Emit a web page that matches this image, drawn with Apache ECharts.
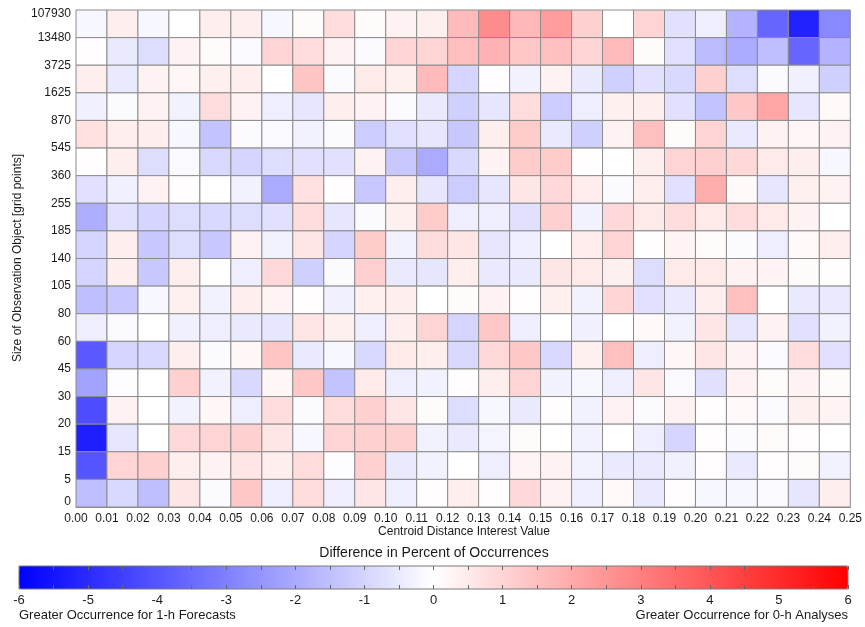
<!DOCTYPE html>
<html><head><meta charset="utf-8">
<script src="https://cdn.jsdelivr.net/npm/echarts@6/dist/echarts.min.js"></script>
<style>html,body{margin:0;padding:0;background:#fff}#c{width:865px;height:627px}</style>
</head><body><div id="c"></div>
<script>
// x edges (Centroid Distance Interest Value) — 25 columns between 26 edges
const xTickLabels = ['0.00','0.01','0.02','0.03','0.04','0.05','0.06','0.07','0.08','0.09','0.10','0.11','0.12','0.13','0.14','0.15','0.16','0.17','0.18','0.19','0.20','0.21','0.22','0.23','0.24','0.25'];
// y edges (Size of Observation Object) — 18 rows between 19 edges, bottom to top
const yTickLabels = ['0','5','15','20','30','45','60','80','105','140','185','255','360','545','870','1625','3725','13480','107930'];
const colorbarTicks = [-6,-5,-4,-3,-2,-1,0,1,2,3,4,5,6];

// Difference in percent of occurrences; rows listed top (13480–107930) to bottom (0–5)
const cellValues = [
  [-0.2, 0.4,-0.2, 0.0, 0.4, 0.4,-0.2, 0.1, 0.8, 0.1, 0.3, 0.35, 1.6, 2.7, 1.7, 2.3, 1.1, 0.0, 1.0,-0.7,-0.4,-1.8,-3.6,-5.2,-2.8],
  [0.05,-0.5,-0.8, 0.3, 0.1,-0.15, 1.0, 0.8, 0.3,-0.1, 1.0, 1.0, 1.5, 1.8, 1.3, 1.5, 1.0, 1.6, 0.1,-0.7,-1.6,-2.0,-1.5,-3.6,-1.8],
  [0.4,-0.5, 0.3, 0.2, 0.35, 0.4, 0.0, 1.4,-0.1, 0.5, 0.35, 1.6,-1.0, 0.05,-0.3, 0.3,-0.5,-1.1,-0.7,-0.9, 1.1,-0.8,-0.1,-0.35,-1.1],
  [-0.35,-0.1, 0.3,-0.3, 0.8, 0.3,-0.4,-0.6, 0.4, 0.3,-0.1,-0.5,-1.1,-0.6, 0.8,-1.2,-0.4, 0.35, 0.4,-0.7,-1.4, 1.3, 2.1,-0.6, 0.15],
  [0.7, 0.4, 0.4,-0.2,-1.4,-0.1,-0.15,-0.3,-0.1,-1.2,-0.7,-0.6,-1.3, 0.4, 1.2,-0.5,-1.1, 0.3, 1.5, 0.1, 1.0,-0.5, 0.3, 0.2, 0.3],
  [0.05, 0.4,-0.8,-0.15,-0.9,-1.0,-0.8,-0.7,-0.7, 0.3,-1.3,-2.0,-0.9, 0.3, 1.2, 1.2, 0.05, 0.0, 0.4, 1.0, 1.1, 0.9, 0.5, 0.4,-0.2],
  [-0.7,-0.35, 0.3, 0.05, 0.0,-0.3,-2.0, 0.7, 0.05,-1.3, 0.4,-0.6,-1.2,-0.6, 0.6, 0.9, 0.45,-0.1, 0.4,-0.7, 1.9, 0.15,-0.6, 0.35, 0.3],
  [-1.9,-0.7,-1.0,-0.8,-0.9,-0.8,-0.7, 0.8,-0.6,-0.1, 0.35, 1.2,-0.4,-0.4,-0.7, 1.1,-0.3, 0.9, 0.5, 0.8, 0.5, 0.8, 0.5, 0.3, 0.0],
  [-1.0, 0.4,-1.3,-0.8,-1.3, 0.3,-0.3, 0.6,-1.0, 1.2,-0.3, 0.8, 0.6,-0.6,-0.4, 0.0, 0.45, 1.0, 0.05, 0.25, 0.1,-0.1,-0.4, 0.15, 0.4],
  [-1.0, 0.4,-1.3, 0.4, 0.0,-0.4, 0.9,-1.1,-0.1, 1.1,-0.5,-0.6, 0.4,-0.5,-0.5, 0.6, 0.5, 0.35,-0.8, 0.5, 0.5, 0.3, 0.25, 0.1, 0.05],
  [-1.5,-1.3,-0.2, 0.35,-0.3, 0.4, 0.25, 0.05,-0.35, 0.35, 0.4, 0.0, 0.1, 0.3, 0.05, 0.35,-0.3, 1.0,-0.7,-0.5, 0.4, 1.5, 0.0,-0.5,-0.5],
  [-0.4,-0.1, 0.0,-0.35,-0.4,-0.5,-0.6, 0.6, 0.35,-0.4, 0.4, 1.0,-1.0, 1.3,-0.4, 0.0,-0.35, 0.0, 0.15,-0.3, 0.6,-0.6, 0.3,-0.7,-0.3],
  [-3.9,-1.0,-0.9, 0.4,-0.1, 0.2, 1.4,-0.5,-0.2,-0.9, 0.5, 0.4,-0.9, 0.9, 1.3,-0.9, 0.35, 1.5,-0.4, 0.2, 0.6, 0.3,-0.15, 0.8,-0.7],
  [-2.2,-0.05, 0.0, 1.1,-0.3,-0.9, 0.2, 1.3,-1.4, 0.5,-0.4,-0.3, 0.05, 0.4, 1.0,-0.3,-0.2,-0.4, 0.6,-0.15,-0.7, 0.3, 0.1, 0.3, 0.1],
  [-4.2, 0.3, 0.0,-0.3, 0.2,-0.4, 0.8,-0.1, 0.8, 1.1, 0.6, 0.1,-0.8,-0.2,-0.5, 0.05,-0.3, 0.3,-0.1, 0.3, 0.05, 0.15,-0.1, 0.35, 0.25],
  [-5.3,-0.6, 0.0, 0.9, 1.0, 1.1, 0.6,-0.2, 1.0, 1.1, 1.1,-0.3,-0.5,-0.25, 0.1, 0.0,-0.3, 0.0,-0.4,-1.0, 0.05,-0.1, 0.1, 0.05, 0.0],
  [-4.0, 1.0, 1.1, 0.4, 0.3, 0.6, 0.4, 0.8,-0.05, 1.1,-0.5,-0.3, 0.0,-0.4, 0.25, 0.3,-0.3,-0.5,-0.5,-0.35, 0.05,-0.5, 0.05, 0.1,-0.3],
  [-1.5,-0.9,-1.5, 0.6,-0.1, 1.3,-0.4, 0.8,-0.4, 0.6,-0.4, 0.05, 0.4, 0.05, 0.9, 0.3,-0.4, 0.15,-0.5, 0.05,-0.2,-0.2,-0.15,-0.6, 0.4]
];

const xEdges = xTickLabels.map(Number);
const nRows = cellValues.length;
const cells = [];
cellValues.forEach((row, i) => {
  const r = nRows - 1 - i;
  row.forEach((v, c) => cells.push([xEdges[c], xEdges[c + 1], r, r + 1, v]));
});

const FONT = '"Liberation Sans", Arial, Helvetica, sans-serif';
const TXT = '#1a1a1a';
const chart = echarts.init(document.getElementById('c'), null, {renderer: 'canvas'});

chart.setOption({
  animation: false,
  backgroundColor: '#fff',
  textStyle: {fontFamily: FONT},
  grid: [
    {left: 76, top: 10, width: 776, height: 497, containLabel: false},
    {left: 19, top: 566, width: 829, height: 23, show: true, borderColor: '#7a7a7a', borderWidth: 1, backgroundColor: 'rgba(0,0,0,0)', z: 10}
  ],
  xAxis: [
    {
      gridIndex: 0, type: 'value', min: 0, max: 0.25, interval: 0.01,
      axisLine: {show: true, lineStyle: {color: '#8c8c8c'}},
      axisTick: {show: false}, splitLine: {show: false},
      axisLabel: {fontFamily: FONT, fontSize: 12, color: TXT, margin: 6,
        formatter: v => v.toFixed(2)}
    },
    {
      gridIndex: 1, type: 'value', min: -6, max: 6, interval: 1, position: 'bottom', z: 10,
      axisLine: {show: false},
      axisTick: {show: true, inside: true, length: 4, lineStyle: {color: '#666'}},
      minorTick: {show: true, splitNumber: 2, length: 4, lineStyle: {color: '#666'}},
      splitLine: {show: false},
      axisLabel: {fontFamily: FONT, fontSize: 13, color: TXT, margin: 5}
    },
    {
      gridIndex: 1, type: 'value', min: -6, max: 6, interval: 1, position: 'top', z: 10,
      axisLine: {show: false},
      axisTick: {show: true, inside: true, length: 4, lineStyle: {color: '#666'}},
      minorTick: {show: true, splitNumber: 2, length: 4, lineStyle: {color: '#666'}},
      splitLine: {show: false}, axisLabel: {show: false}
    }
  ],
  yAxis: [
    {
      gridIndex: 0, type: 'value', min: 0, max: yTickLabels.length - 1, interval: 1,
      axisLine: {show: true, lineStyle: {color: '#8c8c8c'}},
      axisTick: {show: false}, splitLine: {show: false},
      axisLabel: {fontFamily: FONT, fontSize: 12, color: TXT, margin: 5,
        formatter: v => {
          const s = yTickLabels[v];
          if (v === 0) return '{bot|' + s + '}';
          if (v === yTickLabels.length - 1) return '{top|' + s + '}';
          return s;
        },
        rich: {
          bot: {fontFamily: FONT, fontSize: 12, color: TXT, padding: [0, 0, 10, 0]},
          top: {fontFamily: FONT, fontSize: 12, color: TXT, padding: [8, 0, 0, 0]}
        }
      }
    },
    {gridIndex: 1, type: 'value', min: 0, max: 1, show: false}
  ],
  visualMap: {
    type: 'continuous', min: -6, max: 6, orient: 'horizontal',
    left: 19, top: 566, itemWidth: 23, itemHeight: 829, padding: 0,
    calculable: false, hoverLink: false, seriesIndex: 0, dimension: 4,
    inRange: {color: ['#0000ff', '#ffffff', '#ff0000']},
    textStyle: {fontSize: 0}
  },
  series: [{
    type: 'custom', xAxisIndex: 0, yAxisIndex: 0,
    encode: {x: [0, 1], y: [2, 3]},
    data: cells,
    renderItem: (params, api) => {
      const p0 = api.coord([api.value(0), api.value(3)]);
      const p1 = api.coord([api.value(1), api.value(2)]);
      return {
        type: 'rect',
        shape: {x: p0[0], y: p0[1], width: p1[0] - p0[0], height: p1[1] - p0[1]},
        style: {fill: api.visual('color'), stroke: '#8c8c8c', lineWidth: 1}
      };
    }
  }],
  graphic: [
    {type: 'text', x: 464, y: 532, style: {text: 'Centroid Distance Interest Value', font: '12px ' + FONT, fill: TXT, align: 'center', verticalAlign: 'middle'}},
    {type: 'text', x: 18, y: 258, rotation: Math.PI / 2, style: {text: 'Size of Observation Object [grid points]', font: '12px ' + FONT, fill: TXT, align: 'center', verticalAlign: 'middle'}},
    {type: 'text', x: 434, y: 553, style: {text: 'Difference in Percent of Occurrences', font: '14px ' + FONT, fill: TXT, align: 'center', verticalAlign: 'middle'}},
    {type: 'text', x: 19, y: 615, style: {text: 'Greater Occurrence for 1-h Forecasts', font: '13px ' + FONT, fill: TXT, align: 'left', verticalAlign: 'middle'}},
    {type: 'text', x: 848, y: 615, style: {text: 'Greater Occurrence for 0-h Analyses', font: '13px ' + FONT, fill: TXT, align: 'right', verticalAlign: 'middle'}}
  ]
});
</script>
</body></html>
